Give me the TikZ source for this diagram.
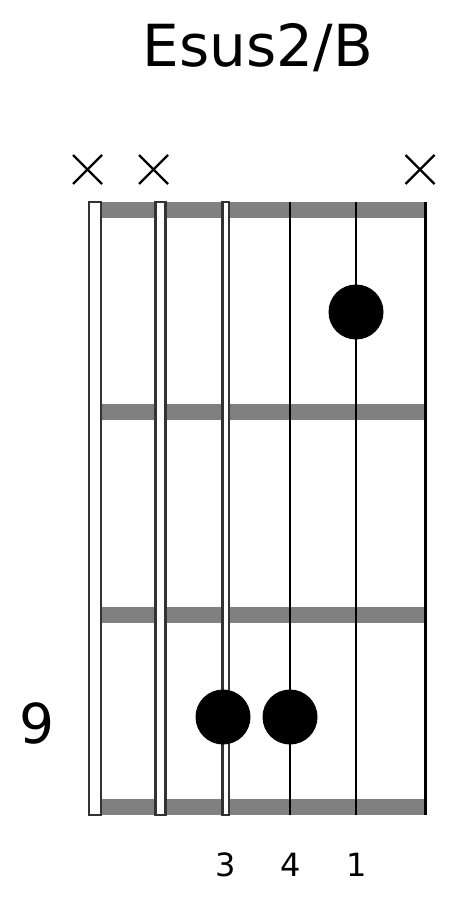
\documentclass[tikz,border=0pt]{standalone}
\usepackage{fontspec}
\setmainfont{DejaVu Sans}
\begin{document}
\begin{tikzpicture}[x=1pt,y=-1pt,
  fretbar/.style={fill=fretgray,draw=none},
  hollowstring/.style={fill=white,draw=strgray,line width=2.5pt},
  thinstring/.style={draw=black,line width=2.8pt},
  fingerdot/.style={circle,fill=black,draw=none,minimum size=55pt,inner sep=0pt},
  mutemark/.style={line width=2.4pt,black},
  lbl/.style={font=\fontsize{32}{32}\selectfont,inner sep=0pt}]
\definecolor{fretgray}{HTML}{808080}
\definecolor{strgray}{HTML}{333333}
\useasboundingbox (0,0) rectangle (468,912);
% title
\node[inner sep=0pt,font=\fontsize{58}{58}\selectfont] (title) at (258,48) {Esus2/B};
% fret bars
\foreach \y/\h in {202/16,404/16,607/16,799/16}{
  \fill[fretgray] (101,\y) rectangle (426,\y+\h);
}
% hollow strings
\draw[hollowstring] (89,202) rectangle (101,815);
\draw[hollowstring] (155.5,202) rectangle (165.5,815);
\draw[hollowstring] (222.5,202) rectangle (229,815);
% thin strings
\draw[thinstring] (290,202) -- (290,815);
\draw[thinstring] (356,202) -- (356,815);
\draw[thinstring] (425.5,202) -- (425.5,815);
% mute marks
\foreach \x/\n in {87.5/a,153.5/b,420/c}{
  \coordinate (m\n) at (\x,169.5);
  \draw[mutemark] ([shift={(-14.5,-14.5)}]m\n) -- ([shift={(14.5,14.5)}]m\n);
  \draw[mutemark] ([shift={(-14.5,14.5)}]m\n) -- ([shift={(14.5,-14.5)}]m\n);
}
% dots
\node[fingerdot] (d1) at (356,312) {};
\node[fingerdot] (d3) at (223,717) {};
\node[fingerdot] (d4) at (290,717) {};
% fret number
\node[inner sep=0pt,font=\fontsize{55}{55}\selectfont] (fretnum) at (37,723) {9};
% finger labels
\node[lbl] (f3) at (225.5,865) {3};
\node[lbl] (f4) at (291,865) {4};
\node[lbl] (f1) at (357,865) {1};
\end{tikzpicture}
\end{document}
